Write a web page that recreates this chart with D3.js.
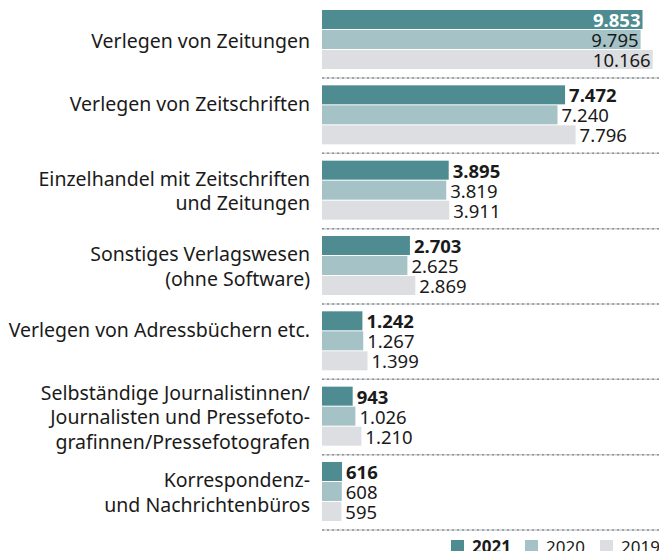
<!DOCTYPE html>
<html lang="de">
<head>
<meta charset="utf-8">
<script src="https://cdn.jsdelivr.net/npm/d3@7"></script>
<style>
  html, body { margin: 0; padding: 0; background: #ffffff; }
  svg { display: block; font-family: "Noto Sans", "Open Sans", sans-serif; }
</style>
</head>
<body>
<svg id="chart" width="659" height="551"></svg>
<script>
// Branchen (Beschriftung zeilenweise)
const categories = [
  ["Verlegen von Zeitungen"],
  ["Verlegen von Zeitschriften", ""],
  ["Einzelhandel mit Zeitschriften", "und Zeitungen"],
  ["Sonstiges Verlagswesen", "(ohne Software)"],
  ["Verlegen von Adressbüchern etc.", ""],
  ["Selbständige Journalistinnen/", "Journalisten und Pressefoto-", "grafinnen/Pressefotografen"],
  ["Korrespondenz-", "und Nachrichtenbüros"]
];
const years = ["2021", "2020", "2019"];
const values2021 = [9853, 7472, 3895, 2703, 1242, 943, 616];
const values2020 = [9795, 7240, 3819, 2625, 1267, 1026, 608];
const values2019 = [10166, 7796, 3911, 2869, 1399, 1210, 595];
const colors = ["#4e8c91", "#a5c3c6", "#dcdee1"];

const series = [values2021, values2020, values2019];
const W = 659, H = 551;
const left = 322;
const svg = d3.select("#chart");
const fmt = d3.formatLocale({ decimal: ",", thousands: ".", grouping: [3], currency: ["", "€"] }).format(",d");

const x = d3.scaleLinear().domain([0, d3.max(values2019)]).range([left, 652.7]);
const y = d3.scaleBand().domain(d3.range(categories.length)).range([10, 10 + 75.33 * categories.length]).paddingInner(0).paddingOuter(0);
const yInner = d3.scaleBand().domain(d3.range(years.length)).range([0, 60]);

const barH = 19;

// Trennlinien unter jeder Gruppe
categories.forEach((c, i) => {
  const yy = y(i) + 68;
  svg.append("line").attr("x1", left).attr("x2", W).attr("y1", yy).attr("y2", yy)
    .attr("stroke", "#cdd0d4").attr("stroke-width", 1.5);
  svg.append("line").attr("x1", left).attr("x2", W).attr("y1", yy).attr("y2", yy)
    .attr("stroke", "#8e9399").attr("stroke-width", 1.5).attr("stroke-dasharray", "2,3");
});

// Gruppen
const g = svg.selectAll("g.grp").data(categories).join("g")
  .attr("class", "grp")
  .attr("transform", (d, i) => `translate(0,${y(i)})`);

// Beschriftung links
g.each(function (lines, i) {
  const n = lines.length;
  const lh = 24.5;
  const first = 30 + 7.5 - lh / 2 * (n - 1);
  const t = d3.select(this).append("text")
    .attr("text-anchor", "end")
    .attr("fill", "#1a1a1a")
    .style("font-size", "19.5px");
  lines.forEach((ln, k) => {
    t.append("tspan").attr("x", 310).attr("y", first + k * lh).text(ln);
  });
});

// Balken und Werte
years.forEach((yr, s) => {
  g.append("rect")
    .attr("x", left)
    .attr("y", yInner(s))
    .attr("width", (d, i) => x(series[s][i]) - left)
    .attr("height", barH)
    .attr("fill", colors[s]);

  g.append("text")
    .attr("class", "val")
    .attr("y", yInner(s) + barH - 2)
    .style("font-size", "18.5px")
    .style("font-weight", s === 0 ? "700" : "400")
    .text((d, i) => fmt(series[s][i]))
    .each(function (d, i) {
      const el = d3.select(this);
      const end = x(series[s][i]);
      const w = this.getComputedTextLength();
      if (end + 4 + w > W) {
        el.attr("x", end - 2).attr("text-anchor", "end")
          .attr("fill", s === 0 ? "#ffffff" : "#1a1a1a");
      } else {
        el.attr("x", end + 4).attr("text-anchor", "start").attr("fill", "#1a1a1a");
      }
    });
});

// Legende
const legX = [451, 525, 600];
const leg = svg.selectAll("g.leg").data(years).join("g")
  .attr("class", "leg")
  .attr("transform", (d, i) => `translate(${legX[i]},540)`);
leg.append("rect").attr("width", 13).attr("height", 13).attr("fill", (d, i) => colors[i]);
leg.append("text").attr("x", 21).attr("y", 13)
  .attr("fill", "#1a1a1a")
  .style("font-size", "17px")
  .style("font-weight", (d, i) => i === 0 ? "700" : "400")
  .text(d => d);
</script>
</body>
</html>
